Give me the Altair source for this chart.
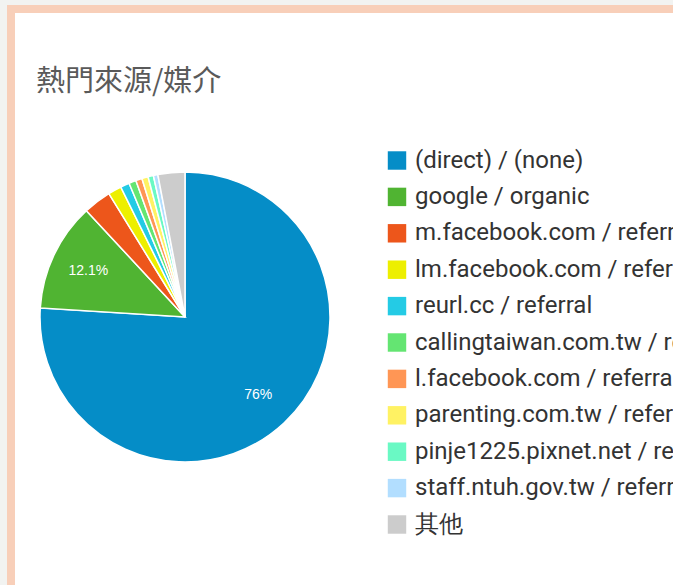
import altair as alt
import pandas as pd

categories = [
    "(direct) / (none)",
    "google / organic",
    "m.facebook.com / referral",
    "lm.facebook.com / referral",
    "reurl.cc / referral",
    "callingtaiwan.com.tw / referral",
    "l.facebook.com / referral",
    "parenting.com.tw / referral",
    "pinje1225.pixnet.net / referral",
    "staff.ntuh.gov.tw / referral",
    "其他",
]
shares = [76.0, 12.1, 3.1, 1.5, 1.0, 0.8, 0.7, 0.7, 0.6, 0.5, 3.0]
colors = [
    "#058dc7", "#50b432", "#ed561b", "#edef00", "#24cbe5", "#64e572",
    "#ff9655", "#fff263", "#6af9c4", "#b2deff", "#cccccc",
]
order = list(range(len(categories)))

df = pd.DataFrame({"source": categories, "share": shares, "order": order})

W, H = 662, 576
CX, CY, R = 174, 308, 145

base = alt.Chart(df).encode(
    theta=alt.Theta("share:Q", stack=True),
    order=alt.Order("order:Q"),
)

pie = base.mark_arc(radius=R, stroke="white", strokeWidth=1.5).encode(
    color=alt.Color(
        "source:N",
        scale=alt.Scale(domain=categories, range=colors),
        legend=alt.Legend(
            orient="none",
            legendX=374,
            legendY=139.5,
            title=None,
            symbolType="square",
            symbolSize=340,
            symbolStrokeWidth=0,
            symbolOpacity=1,
            symbolOffset=0,
            labelFont="Roboto",
            labelFontSize=24,
            labelColor="#333333",
            labelLimit=1000,
            labelOffset=6,
            rowPadding=12.4,
            padding=0,
        ),
    ),
    x=alt.value(CX),
    y=alt.value(CY),
)

labels = base.transform_calculate(
    label="datum.share >= 5 ? format(datum.share, '.3~r') + '%' : ''"
).mark_text(radius=107, color="white", fontSize=14, font="Liberation Sans").encode(
    text="label:N",
    x=alt.value(CX),
    y=alt.value(CY),
)

chart = (
    alt.layer(pie, labels)
    .properties(
        width=W,
        height=H,
        title=alt.TitleParams(
            "熱門來源/媒介",
            anchor="start",
            frame="group",
            font="Noto Sans CJK TC",
            fontSize=29,
            fontWeight="normal",
            color="#5a5a5a",
            baseline="alphabetic",
            offset=0,
            dx=25,
            dy=111,
        ),
        autosize=alt.AutoSizeParams(type="none"),
        padding={"left": 11, "top": 9, "right": 0, "bottom": 0},
        background="#f2f3f1",
    )
    .configure_view(
        fill="white",
        stroke="#f8cfb9",
        strokeWidth=8,
        strokeDash=[W, H + W, H],
        strokeCap="square",
    )
)

chart.save("out.html", embed_options={"renderer": "svg", "actions": False})
